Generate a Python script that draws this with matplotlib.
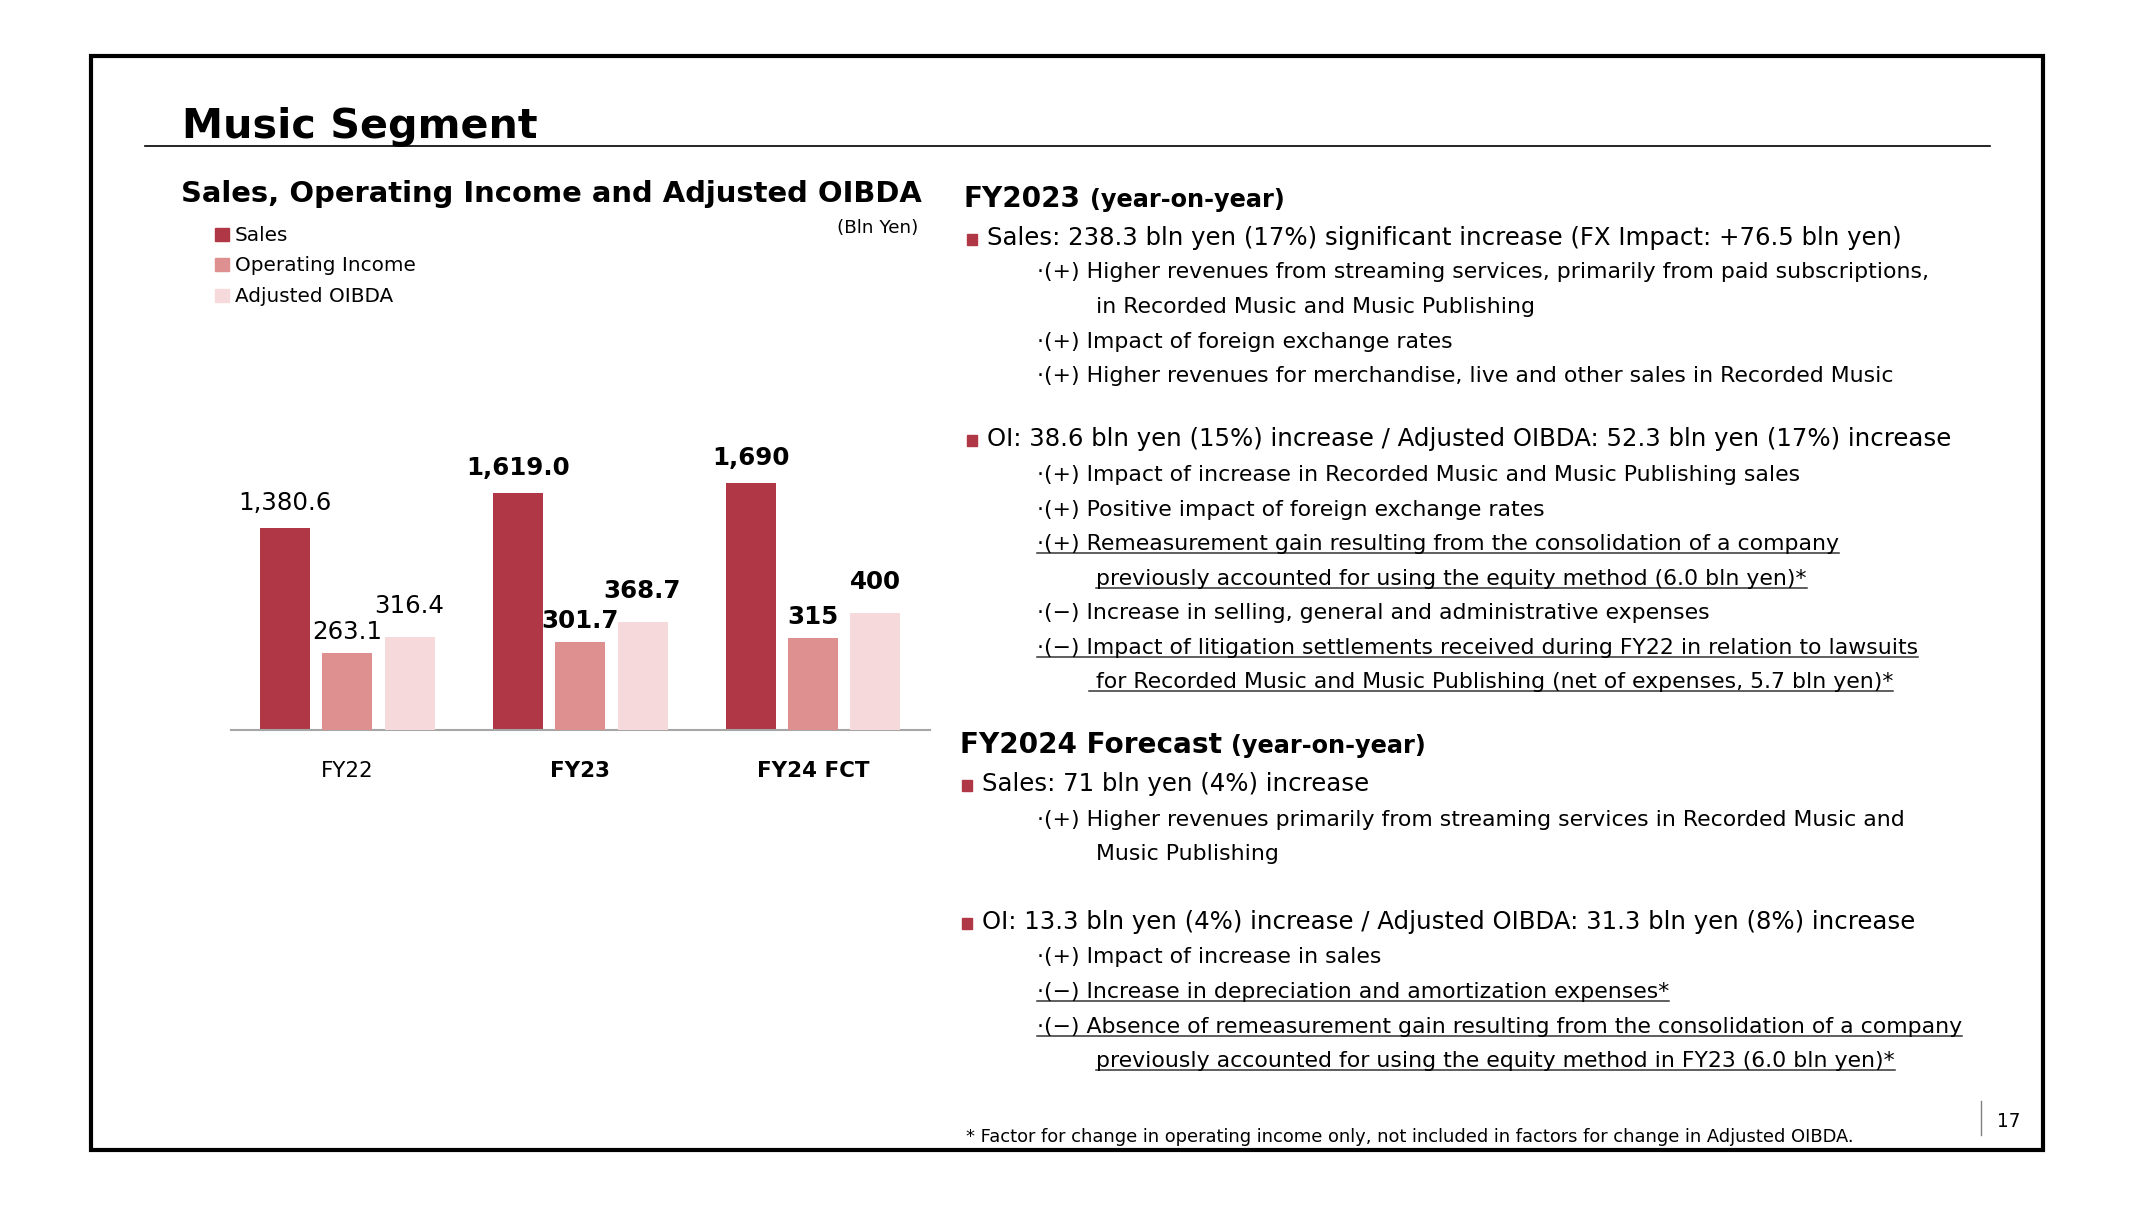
import matplotlib
matplotlib.use('Agg')
import matplotlib.pyplot as plt
import numpy as np
from matplotlib.patches import Rectangle
from matplotlib.lines import Line2D
from matplotlib.textpath import TextPath
from matplotlib.font_manager import FontProperties
from matplotlib.transforms import blended_transform_factory

W, H = 2142, 1205

# chart data (Bln Yen)
categories = ['FY22', 'FY23', 'FY24 FCT']
cat_bold = [False, True, True]
sales = [1380.6, 1619.0, 1690]
op_income = [263.1, 301.7, 315]
adj_oibda = [316.4, 368.7, 400]
sales_labels = ['1,380.6', '1,619.0', '1,690']
oi_labels = ['263.1', '301.7', '315']
oibda_labels = ['316.4', '368.7', '400']
series_names = ['Sales', 'Operating Income', 'Adjusted OIBDA']
colors = ['#AF3746', '#DE8F90', '#F6D9DB']

# commentary text: (kind, text, underlined)
fy23_lines = [
    ('bullet', 'Sales: 238.3 bln yen (17%) significant increase (FX Impact: +76.5 bln yen)', False),
    ('sub', '\u00b7(+) Higher revenues from streaming services, primarily from paid subscriptions,', False),
    ('cont', 'in Recorded Music and Music Publishing', False),
    ('sub', '\u00b7(+) Impact of foreign exchange rates', False),
    ('sub', '\u00b7(+) Higher revenues for merchandise, live and other sales in Recorded Music', False),
    ('bullet', 'OI: 38.6 bln yen (15%) increase / Adjusted OIBDA: 52.3 bln yen (17%) increase', False),
    ('sub', '\u00b7(+) Impact of increase in Recorded Music and Music Publishing sales', False),
    ('sub', '\u00b7(+) Positive impact of foreign exchange rates', False),
    ('sub', '\u00b7(+) Remeasurement gain resulting from the consolidation of a company', True),
    ('cont', 'previously accounted for using the equity method (6.0 bln yen)*', True),
    ('sub', '\u00b7(\u2212) Increase in selling, general and administrative expenses', False),
    ('sub', '\u00b7(\u2212) Impact of litigation settlements received during FY22 in relation to lawsuits', True),
    ('cont', ' for Recorded Music and Music Publishing (net of expenses, 5.7 bln yen)*', True),
]
fy24_lines = [
    ('bullet', 'Sales: 71 bln yen (4%) increase', False),
    ('sub', '\u00b7(+) Higher revenues primarily from streaming services in Recorded Music and', False),
    ('cont', 'Music Publishing', False),
    ('bullet', 'OI: 13.3 bln yen (4%) increase / Adjusted OIBDA: 31.3 bln yen (8%) increase', False),
    ('sub', '\u00b7(+) Impact of increase in sales', False),
    ('sub', '\u00b7(\u2212) Increase in depreciation and amortization expenses*', True),
    ('sub', '\u00b7(\u2212) Absence of remeasurement gain resulting from the consolidation of a company', True),
    ('cont', 'previously accounted for using the equity method in FY23 (6.0 bln yen)*', True),
]
footnote = '* Factor for change in operating income only, not included in factors for change in Adjusted OIBDA.'

plt.rcParams['font.family'] = ['DejaVu Sans']


def fx(x):
    return x / W


def fy(y):
    return 1 - y / H


def fit(s, width_px, weight='normal'):
    # font size (pt) so that the ink width of s is width_px at dpi 100
    tp = TextPath((0, 0), s, size=100, prop=FontProperties(family='DejaVu Sans', weight=weight))
    return width_px * 72 / tp.get_extents().width


fig = plt.figure(figsize=(W / 100, H / 100), dpi=100)

# frame and title
fig.add_artist(Rectangle((fx(91), fy(1150)), (2043 - 91) / W, (1150 - 56) / H, fill=False,
                         lw=3, ec='black', transform=fig.transFigure))
fig.text(fx(182), fy(138), 'Music Segment', fontsize=fit('Music Segment', 351, 'bold'),
         fontweight='bold', va='baseline')
fig.add_artist(Line2D([fx(145), fx(1990)], [fy(146)] * 2, lw=1.2, color='black'))
fig.text(fx(181), fy(202), 'Sales, Operating Income and Adjusted OIBDA',
         fontsize=fit('Sales, Operating Income and Adjusted OIBDA', 740, 'bold'),
         fontweight='bold', va='baseline')

# legend
leg_fs = fit('Operating Income', 178)
for name, c, b in zip(series_names, colors, [241, 271, 302]):
    fig.add_artist(Rectangle((fx(215), fy(b)), 14 / W, 13 / H, color=c, transform=fig.transFigure))
    fig.text(fx(235), fy(b), name, fontsize=leg_fs, va='baseline')
fig.text(fx(918), fy(233), '(Bln Yen)', fontsize=fit('(Bln Yen)', 78), ha='right', va='baseline')

# bar chart: sales on primary scale, OI / OIBDA on a 2x secondary scale
ax = fig.add_axes([fx(231), fy(730), (929.7 - 231) / W, 292.4 / H])
ax2 = ax.twinx()
x = np.arange(len(categories))
bw, off = 0.2146, 0.267
ax.bar(x - off, sales, width=bw, color=colors[0])
ax2.bar(x, op_income, width=bw, color=colors[1])
ax2.bar(x + off, adj_oibda, width=bw, color=colors[2])
ax.set_xlim(-0.5, 2.5)
ax.set_ylim(0, 2000)
ax2.set_ylim(0, 1000)
for a in (ax, ax2):
    a.set_xticks([])
    a.set_yticks([])
    for s in ('top', 'left', 'right'):
        a.spines[s].set_visible(False)
ax2.spines['bottom'].set_visible(False)
ax.spines['bottom'].set_color('#A6A6A6')
ax.spines['bottom'].set_linewidth(1.5)

val_fs = fit('1,380.6', 89.5)
for i in range(len(categories)):
    w = 'bold' if cat_bold[i] else 'normal'
    ax.annotate(sales_labels[i], (x[i] - off, sales[i]), xytext=(0, 18 * 0.72),
                textcoords='offset points', ha='center', va='baseline', fontsize=val_fs, fontweight=w)
    ax2.annotate(oi_labels[i], (x[i], op_income[i]), xytext=(0, 14 * 0.72),
                 textcoords='offset points', ha='center', va='baseline', fontsize=val_fs, fontweight=w)
    ax2.annotate(oibda_labels[i], (x[i] + off, adj_oibda[i]), xytext=(0, 24 * 0.72),
                 textcoords='offset points', ha='center', va='baseline', fontsize=val_fs, fontweight=w)

cat_fs = fit('FY24 FCT', 110, 'bold')
tr = blended_transform_factory(ax.transData, fig.transFigure)
for i, cat in enumerate(categories):
    ax.text(x[i], fy(777), cat, transform=tr, ha='center', va='baseline', fontsize=cat_fs,
            fontweight='bold' if cat_bold[i] else 'normal')

# commentary
head_fs = fit('FY2023', 112, 'bold')
yoy_fs = fit('(year-on-year)', 191, 'bold')
bullet_fs = fit(fy23_lines[0][1], 907)
sub_fs = fit(fy23_lines[1][1], 884)

heads = [
    (fig.text(fx(964), fy(207), 'FY2023', fontsize=head_fs, fontweight='bold', va='baseline'), 207),
    (fig.text(fx(960), fy(753), 'FY2024 Forecast', fontsize=head_fs, fontweight='bold', va='baseline'), 753),
]

underlined = []


def draw_block(lines, bases, x_text, x_mark):
    for (kind, s, ul), b in zip(lines, bases):
        if kind == 'bullet':
            fig.add_artist(Rectangle((fx(x_mark), fy(b)), 10 / W, 11 / H, color=colors[0],
                                     transform=fig.transFigure))
            xx, size = x_text, bullet_fs
        elif kind == 'sub':
            xx, size = 1037, sub_fs
        else:
            xx, size = 1096, sub_fs
        if s.startswith(' '):
            xx -= 7
        t = fig.text(fx(xx), fy(b), s, fontsize=size, va='baseline')
        if ul:
            underlined.append((t, b))


draw_block(fy23_lines, [245, 278, 313, 348, 382, 446, 481, 516, 550, 585, 619, 654, 688], 987, 967)
draw_block(fy24_lines, [791, 826, 860, 929, 963, 998, 1033, 1067], 982, 962)

fig.text(fx(966), fy(1142), footnote, fontsize=fit(footnote, 887), va='baseline')

# page number
fig.add_artist(Line2D([fx(1981), fx(1981)], [fy(1101), fy(1135)], lw=1, color='#808080'))
fig.text(fx(1997), fy(1127), '17', fontsize=fit('17', 20), va='baseline')

fig.canvas.draw()
renderer = fig.canvas.get_renderer()
for t, b in heads:
    bb = t.get_window_extent(renderer)
    fig.text((bb.x1 + 9) / W, fy(b), '(year-on-year)', fontsize=yoy_fs, fontweight='bold', va='baseline')
for t, b in underlined:
    bb = t.get_window_extent(renderer)
    fig.add_artist(Line2D([bb.x0 / W, bb.x1 / W], [fy(b + 3)] * 2, lw=1.1, color='#333333'))

fig.savefig('out.png', dpi=100)
